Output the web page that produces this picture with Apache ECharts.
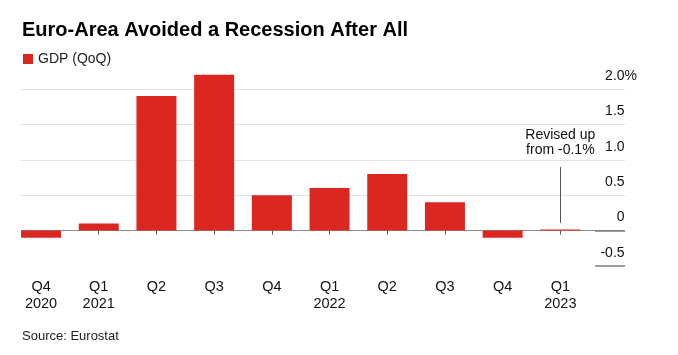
<!DOCTYPE html>
<html>
<head>
<meta charset="utf-8">
<script src="https://cdn.jsdelivr.net/npm/echarts@6/dist/echarts.min.js"></script>
<style>html,body{margin:0;padding:0;background:#fff}#c{width:678px;height:355px}</style>
</head>
<body>
<div id="c"></div>
<script>
const categories = ['Q4\n2020','Q1\n2021','Q2','Q3','Q4','Q1\n2022','Q2','Q3','Q4','Q1\n2023'];
const gdpQoQ = [-0.1, 0.1, 1.9, 2.2, 0.5, 0.6, 0.8, 0.4, -0.1, 0.0];
const yTicks = [-0.5, 0, 0.5, 1.0, 1.5, 2.0];
const annotationText = 'Revised up\nfrom -0.1%';
const annotationFrom = 0.11, annotationTo = 0.9, annotationIndex = 9;

const FONT = '"Liberation Sans", Arial, sans-serif';
const YMIN = -0.5, YMAX = 2.5;
const TOP = 53.5, BOTTOM = 89;

function yLabel(v) {
  if (v > 2.0 + 1e-9) return '';
  let s = (v === 0) ? '0' : v.toFixed(1);
  const top = Math.abs(v - 2.0) < 1e-9;
  return '{a|' + s + '}{' + (top ? 'p' : 'h') + '|%}';
}

const chart = echarts.init(document.getElementById('c'), null, {renderer: 'canvas'});
chart.setOption({
  animation: false,
  backgroundColor: '#fff',
  textStyle: {fontFamily: FONT},
  title: {
    text: 'Euro-Area Avoided a Recession After All',
    left: 17, top: 15,
    textStyle: {fontFamily: FONT, fontSize: 20, fontWeight: 'bold', color: '#000'}
  },
  legend: {
    data: ['GDP (QoQ)'],
    left: 18, top: 47,
    itemWidth: 10, itemHeight: 10, itemGap: 5,
    icon: 'rect',
    textStyle: {fontFamily: FONT, fontSize: 14, color: '#222', padding: [0,0,0,0]}
  },
  graphic: [{
    type: 'text', left: 22, top: 330,
    style: {text: 'Source: Eurostat', font: '13px ' + FONT, fill: '#222'}
  }],
  grid: [
    {left: 21, width: 604, top: TOP, bottom: BOTTOM},
    {left: 12.2, width: 577, top: TOP, bottom: BOTTOM},
    {left: 595, width: 30, top: TOP, bottom: BOTTOM}
  ],
  xAxis: [
    {gridIndex: 0, type: 'value', show: false, min: 0, max: 1},
    {
      gridIndex: 1, type: 'category', data: categories, position: 'bottom',
      axisLine: {show: false},
      axisTick: {show: true, alignWithLabel: true, length: 4, lineStyle: {color: '#555'}},
      axisLabel: {fontFamily: FONT, fontSize: 14.5, color: '#111', lineHeight: 17, margin: 12, interval: 0}
    },
    {gridIndex: 2, type: 'value', show: false, min: 0, max: 1}
  ],
  yAxis: [
    {
      gridIndex: 0, type: 'value', min: YMIN, max: YMAX, interval: 0.5, position: 'right',
      axisLine: {show: false}, axisTick: {show: false},
      splitLine: {show: true, lineStyle: {width: 1, color: ['transparent', '#8c8c8c', '#e2e2e2', '#e2e2e2', '#e2e2e2', '#e2e2e2', 'transparent']}},
      axisLabel: {
        inside: true, margin: -12, formatter: yLabel,
        verticalAlign: 'bottom', padding: [0, 0, 6, 0],
        rich: {
          a: {fontFamily: FONT, fontSize: 14, color: '#111', lineHeight: 14},
          p: {fontFamily: FONT, fontSize: 14, color: '#111', lineHeight: 14},
          h: {fontFamily: FONT, fontSize: 14, color: 'transparent', lineHeight: 14}
        }
      }
    },
    {gridIndex: 1, type: 'value', min: YMIN, max: YMAX, interval: 0.5, show: false, splitLine: {show: false}},
    {
      gridIndex: 2, type: 'value', min: YMIN, max: YMAX, interval: 0.5,
      axisLine: {show: false}, axisTick: {show: false}, axisLabel: {show: false},
      splitLine: {show: true, lineStyle: {width: 1.5, color: ['#7a7a7a', '#7a7a7a', 'transparent', 'transparent', 'transparent', 'transparent', 'transparent']}}
    }
  ],
  series: [{
    name: 'GDP (QoQ)', type: 'bar', xAxisIndex: 1, yAxisIndex: 1,
    data: gdpQoQ, barWidth: 40, barMinHeight: 1,
    itemStyle: {color: '#dc2620'},
    markLine: {
      silent: true, symbol: 'none',
      lineStyle: {color: '#555', width: 1, type: 'solid'},
      label: {
        show: true, position: 'end', distance: 9, formatter: annotationText,
        fontFamily: FONT, fontSize: 14, color: '#111', lineHeight: 15, align: 'center'
      },
      data: [[{coord: [annotationIndex, annotationFrom]}, {coord: [annotationIndex, annotationTo]}]]
    }
  }]
});
</script>
</body>
</html>
